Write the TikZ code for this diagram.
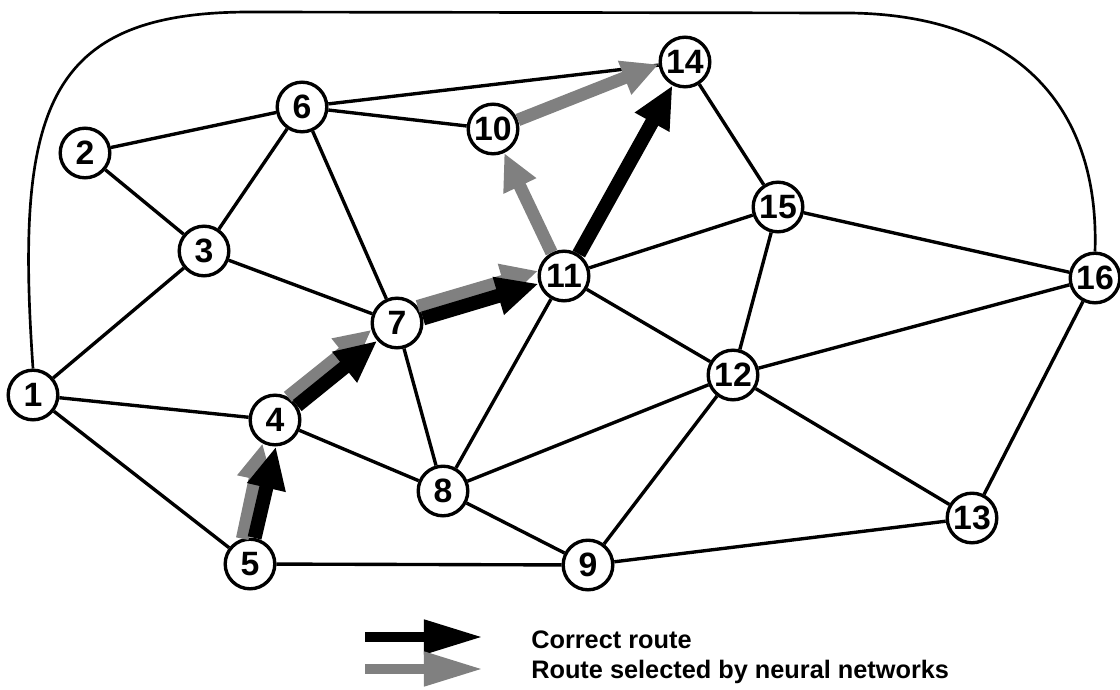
\documentclass[tikz,border=0pt]{standalone}
\usepackage{fontspec}
\setmainfont{Liberation Sans}
\usetikzlibrary{arrows.meta}
\begin{document}
\begin{tikzpicture}
  [x=0.025cm,y=-0.025cm,
   station/.style={circle,fill=white,draw=black,line width=2.4pt,minimum size=1.24cm,inner sep=0pt,font=\fontsize{24}{28}\selectfont\bfseries},
   link/.style={line width=2.4pt},
   correct/.style={line width=10pt,-{Triangle[length=30pt,width=26pt]}},
   chosen/.style={draw=black!50,line width=9pt,-{Triangle[length=26pt,width=24pt]}},
   legtext/.style={anchor=base west,inner sep=0pt,font=\fontsize{18}{21}\selectfont\bfseries}]
  \useasboundingbox (0,0) rectangle (1120,690);

  \node[station] (n1) at (33,395) {1};
  \node[station] (n2) at (85,153) {2};
  \node[station] (n3) at (204,251) {3};
  \node[station] (n4) at (275,420) {4};
  \node[station] (n5) at (250,564) {5};
  \node[station] (n6) at (302,107) {6};
  \node[station] (n7) at (397,323) {7};
  \node[station] (n8) at (443,491) {8};
  \node[station] (n9) at (588,565) {9};
  \node[station] (n10) at (493,129) {10};
  \node[station] (n11) at (564,276) {11};
  \node[station] (n12) at (733,375) {12};
  \node[station] (n13) at (972,518) {13};
  \node[station] (n14) at (685,62) {14};
  \node[station] (n15) at (778,207) {15};
  \node[station] (n16) at (1095,278) {16};

  \foreach \from/\to in {1/3, 1/4, 1/5, 2/3, 2/6, 3/6, 3/7, 6/7, 6/10, 6/14, 4/8, 5/9,
      7/8, 8/11, 8/12, 8/9, 9/12, 9/13, 11/15, 11/12, 12/15, 12/16, 12/13, 14/15, 15/16, 16/13}
    \draw[link] (n\from) -- (n\to);

  % outer link 1 -- 16
  \draw[line width=1.9pt] (n1.north) .. controls (15,110) and (45,12) .. (250,12)
    -- (850,13) .. controls (1010,15) and (1100,100) .. (n16.north);

  % route selected by neural networks
  \draw[chosen] (n5.107) -- (n4.242);
  \draw[chosen] (n4.61) -- (n7.195);
  \draw[chosen] (n7.39) -- (n11.169);
  \draw[chosen] (n11.118) -- (n10.-65);
  \draw[chosen] (n10.20) -- (n14.185);

  % correct route
  \draw[correct] (n5.80) -- (n4.272);
  \draw[correct] (n4.33) -- (n7.222);
  \draw[correct] (n7.10) -- (n11.197);
  \draw[correct] (n11.56) -- (n14.242);

  % legend
  \coordinate (c1) at (365,637);
  \coordinate (c2) at (483,637);
  \coordinate (s1) at (365,669);
  \coordinate (s2) at (483,669);
  \draw[line width=7pt,-{Triangle[length=42pt,width=23pt]}] (c1) -- (c2);
  \draw[draw=black!50,line width=7pt,-{Triangle[length=42pt,width=23pt]}] (s1) -- (s2);
  \node[legtext] (l1) at (531,648) {Correct route};
  \node[legtext] (l2) at (531,678) {Route selected by neural networks};
\end{tikzpicture}
\end{document}
